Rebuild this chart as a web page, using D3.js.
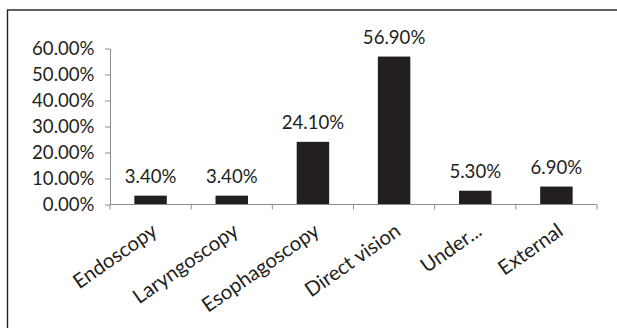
<!DOCTYPE html>
<html>
<head>
<meta charset="utf-8">
<script src="https://cdn.jsdelivr.net/npm/d3@7"></script>
<style>
  html, body { margin: 0; padding: 0; background: #fff; }
  svg { display: block; }
  text { font-family: Lato, "Open Sans", sans-serif; fill: #231f20; }
</style>
</head>
<body>
<script>
// Extraction method shares (%)
const categories = ["Endoscopy", "Laryngoscopy", "Esophagoscopy", "Direct vision", "Under...", "External"];
const values = [3.4, 3.4, 24.1, 56.9, 5.3, 6.9];
const yTicks = [0, 10, 20, 30, 40, 50, 60];

const W = 617, H = 328;
const plotLeft = 110, plotRight = 597, plotBottom = 204.5, plotTop = 48.5;
const fontSize = 18.6, catFontSize = 20.3;
const axisColor = "#8c8c8c";

const svg = d3.select("body").append("svg").attr("width", W).attr("height", H);

// outer frame (runs off the right and bottom edges)
svg.append("rect")
  .attr("x", 7.5).attr("y", 10)
  .attr("width", W + 20).attr("height", H + 20)
  .attr("fill", "none").attr("stroke", "#231f20").attr("stroke-width", 1.4);

const x = d3.scaleBand().domain(categories).range([plotLeft, plotRight]).paddingInner(0.6).paddingOuter(0.3);
const y = d3.scaleLinear().domain([0, 60]).range([plotBottom, plotTop]);

const fmt = v => v.toFixed(2) + "%";

// y axis
const yAxis = svg.append("g").attr("transform", `translate(${plotLeft},0)`)
  .call(d3.axisLeft(y).tickValues(yTicks).tickFormat(fmt).tickSize(5).tickSizeOuter(0).tickPadding(10.5));
yAxis.select(".domain").attr("stroke", axisColor);
yAxis.selectAll(".tick line").attr("stroke", axisColor);
yAxis.selectAll("text").attr("font-size", fontSize).attr("font-family", "Lato, sans-serif").attr("fill", "#231f20");

// bars
svg.append("g").selectAll("rect").data(values).join("rect")
  .attr("x", (d, i) => x(categories[i]))
  .attr("y", d => y(d))
  .attr("width", x.bandwidth())
  .attr("height", d => y(0) - y(d))
  .attr("fill", "#231f20");

// x axis line and ticks on category boundaries
const n = categories.length;
const bounds = d3.range(n + 1).map(i => plotLeft + i * (plotRight - plotLeft) / n);
svg.append("line").attr("x1", plotLeft).attr("x2", plotRight).attr("y1", y(0)).attr("y2", y(0))
  .attr("stroke", axisColor).attr("stroke-width", 1.2);
svg.append("g").selectAll("line").data(bounds).join("line")
  .attr("x1", d => d).attr("x2", d => d)
  .attr("y1", y(0)).attr("y2", y(0) + 5)
  .attr("stroke", axisColor);

// category labels, rotated
svg.append("g").selectAll("text").data(categories).join("text")
  .attr("transform", d => `translate(${x(d) + x.bandwidth() / 2 + 8},${y(0) + 29.5}) rotate(-35)`)
  .attr("text-anchor", "end")
  .attr("font-size", catFontSize)
  .text(d => d);

// value labels
svg.append("g").selectAll("text").data(values).join("text")
  .attr("x", (d, i) => x(categories[i]) + x.bandwidth() / 2)
  .attr("y", d => y(d) - 12.5)
  .attr("text-anchor", "middle")
  .attr("font-size", fontSize)
  .text(d => fmt(d));
</script>
</body>
</html>
